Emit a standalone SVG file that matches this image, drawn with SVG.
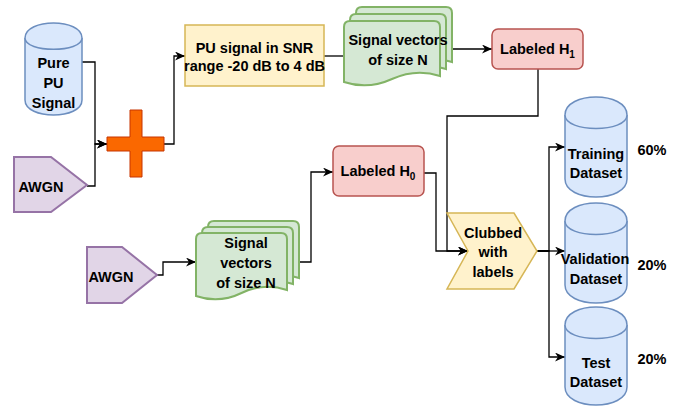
<svg xmlns="http://www.w3.org/2000/svg" width="680" height="406" viewBox="0 0 680 406">
<style>
text{font-family:"Liberation Sans",Arial,Helvetica,sans-serif;font-size:14.5px;font-weight:bold;fill:#000;text-anchor:middle}
.cyl{fill:#dae8fc;stroke:#6c8ebf;stroke-width:1.5}
.awgn{fill:#e1d5e7;stroke:#9673a6;stroke-width:2}
.doc{fill:#d5e8d4;stroke:#82b366;stroke-width:2}
.yel{fill:#fff2cc;stroke:#d6b656;stroke-width:1.5}
.red{fill:#f8cecc;stroke:#b85450;stroke-width:1.5}
.con{fill:none;stroke:#000;stroke-width:1.3}
.sub{font-size:10px}
</style>
<defs>
<marker id="arr" markerUnits="userSpaceOnUse" markerWidth="12" markerHeight="10" refX="10" refY="4.5" orient="auto">
<path d="M0,0 L10,4.5 L0,9 L3,4.5 Z" fill="#000"/>
</marker>
<path id="docA" d="M0,6 Q0,0 6,0 L90,0 Q96,0 96,6 L96,55 Q72,47 48,58 T0,61 Z"/>
<path id="docB" d="M0,6 Q0,0 6,0 L85,0 Q91,0 91,6 L91,57 Q68,49 45.5,60 T0,63 Z"/>
</defs>

<g id="connectors">
<path class="con" d="M82,62 H95 V144 H107" marker-end="url(#arr)"/>
<path class="con" d="M87,186 H95 V144 H107" marker-end="url(#arr)"/>
<path class="con" d="M164,144 H174 V56 H185" marker-end="url(#arr)"/>
<path class="con" d="M324,56 H344"/>
<path class="con" d="M452,49 H492" marker-end="url(#arr)"/>
<path class="con" d="M538,69 V116 H447 V251 H468" stroke="#222" marker-end="url(#arr)"/>
<path class="con" d="M424,173 H436 V251 H468" marker-end="url(#arr)"/>
<path class="con" d="M157,275 H163 V262 H196" marker-end="url(#arr)"/>
<path class="con" d="M299,262 H311 V172 H333" marker-end="url(#arr)"/>
<path class="con" d="M537,251 H549" stroke-width="3"/>
<path class="con" d="M537,251 H549 V147 H565" marker-end="url(#arr)"/>
<path class="con" d="M537,251 H565" marker-end="url(#arr)"/>
<path class="con" d="M537,251 H549 V357 H565" marker-end="url(#arr)"/>
</g>

<g id="pure-pu">
<path class="cyl" d="M25,38 C25,18 82,18 82,38 L82,100 C82,120 25,120 25,100 Z"/>
<path class="cyl" fill="none" d="M25,38 C25,53 82,53 82,38"/>
<text x="53.5" y="68">Pure</text>
<text x="53.5" y="88">PU</text>
<text x="53.5" y="108">Signal</text>
</g>

<g id="awgn1">
<polygon class="awgn" points="14,157 51,157 87,185 51,212 14,212"/>
<text x="41" y="192">AWGN</text>
</g>

<g id="plus">
<polygon points="130,110 142,110 142,137 164,137 164,151 142,151 142,177 130,177 130,151 107,151 107,137 130,137" fill="#fa6800" stroke="#c73500" stroke-width="1"/>
</g>

<g id="pu-snr">
<rect class="yel" x="185" y="25" width="139" height="61"/>
<text x="254.5" y="52.5">PU signal in SNR</text>
<text x="254.5" y="71">range -20 dB to 4 dB</text>
</g>

<g id="vectors1">
<use href="#docA" class="doc" x="356" y="7"/>
<use href="#docA" class="doc" x="350" y="14"/>
<use href="#docA" class="doc" x="344" y="21"/>
<text x="398" y="45">Signal vectors</text>
<text x="398" y="65">of size N</text>
</g>

<g id="labeled-h1">
<rect class="red" x="492" y="29" width="91" height="40" rx="6"/>
<text x="537.5" y="54">Labeled H<tspan class="sub" dy="4">1</tspan></text>
</g>

<g id="awgn2">
<polygon class="awgn" points="87,247 122,247 157,275 122,303 87,303"/>
<text x="111" y="282">AWGN</text>
</g>

<g id="vectors2">
<use href="#docB" class="doc" x="208" y="221"/>
<use href="#docB" class="doc" x="202" y="227"/>
<use href="#docB" class="doc" x="196" y="233"/>
<text x="246" y="248">Signal</text>
<text x="246" y="268">vectors</text>
<text x="246" y="288">of size N</text>
</g>

<g id="labeled-h0">
<rect class="red" x="333" y="146" width="91" height="50" rx="6"/>
<text x="378" y="176">Labeled H<tspan class="sub" dy="4">0</tspan></text>
</g>

<g id="clubbed">
<polygon class="yel" points="447,213 514,213 537,251 514,289 447,289 468,251"/>
<text x="493" y="238">Clubbed</text>
<text x="493" y="257">with</text>
<text x="493" y="277">labels</text>
</g>

<g id="training">
<path class="cyl" d="M565,115 C565,91 627,91 627,115 L627,179 C627,203 565,203 565,179 Z"/>
<path class="cyl" fill="none" d="M565,115 C565,133 627,133 627,115"/>
<text x="596" y="159">Training</text>
<text x="596" y="178">Dataset</text>
<text x="652" y="155">60%</text>
</g>

<g id="validation">
<path class="cyl" d="M565,221 C565,197 627,197 627,221 L627,285 C627,309 565,309 565,285 Z"/>
<path class="cyl" fill="none" d="M565,221 C565,239 627,239 627,221"/>
<text x="595" y="264">Validation</text>
<text x="596" y="284">Dataset</text>
<text x="652" y="270">20%</text>
</g>

<g id="test">
<path class="cyl" d="M565,325 C565,301 627,301 627,325 L627,387 C627,411 565,411 565,387 Z"/>
<path class="cyl" fill="none" d="M565,325 C565,343 627,343 627,325"/>
<text x="596" y="368">Test</text>
<text x="596" y="387">Dataset</text>
<text x="652" y="364">20%</text>
</g>
</svg>
